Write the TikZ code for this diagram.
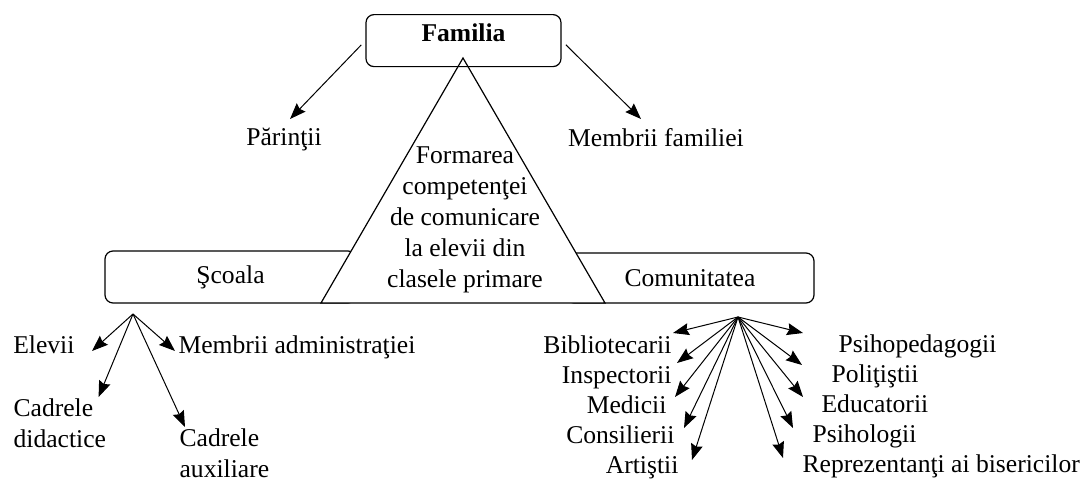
\documentclass[tikz,border=0pt]{standalone}
\usepackage{fontspec}
\setmainfont{Liberation Serif}
\usetikzlibrary{arrows.meta}

\begin{document}
\begin{tikzpicture}[x=0.5pt,y=-0.5pt,
        font=\fontsize{12.8}{15.5}\selectfont, line width=0.6pt,
        box/.style={draw, rounded corners=4pt, inner sep=0pt},
        lbl/.style={inner sep=0pt, text height=9pt, text depth=2.5pt},
        arr/.style={-{Stealth[length=8pt,width=6pt,inset=1pt]}, line width=0.5pt}]
        \useasboundingbox (0,0) rectangle (1083,482);
        \node[box, minimum width=125.5pt, minimum height=26pt] (scoala) at (230.5,277) {Şcoala};
        \node[box, minimum width=124pt, minimum height=25pt] (comunit) at (690,278) {Comunitatea};
        \draw[fill=white] (463,58) -- (605,303) -- (321,303) -- cycle;
        \node[align=center] (formare) at (465,220) {Formarea\\competenţei\\de comunicare\\la elevii din\\clasele primare};
        \node[box, anchor=north, minimum width=97.5pt, text height=13.2pt, text depth=12.8pt, font=\fontsize{12.8}{15.5}\selectfont\bfseries] (familia) at (463.5,14) {Familia};

        \node[lbl] (parinti) at (284,139) {Părinţii};
        \node[lbl] (membrifam) at (656,140) {Membrii familiei};
        \draw[arr, shorten <=3pt] (familia.west) -- ([xshift=3pt,yshift=10pt]parinti.center);
        \draw[arr, shorten <=3pt] (familia.east) -- ([xshift=-7.5pt,yshift=10.5pt]membrifam.center);

        \node[lbl, anchor=east] (elevii) at (75,347) {Elevii};
        \node[lbl, anchor=west] (membriadm) at (178,347) {Membrii administraţiei};
        \node[align=left, inner sep=0pt, anchor=north west] (caddid) at (13,398) {Cadrele\\didactice};
        \node[align=left, inner sep=0pt, anchor=north west] (cadaux) at (179,428) {Cadrele\\auxiliare};
        \coordinate (scfan) at (133,314);
        \draw[arr] (scfan) -- ([xshift=8.5pt,yshift=-2pt]elevii.east);
        \draw[arr] (scfan) -- ([xshift=-1.5pt,yshift=-2pt]membriadm.west);
        \draw[arr] (scfan) -- ([xshift=-4pt,yshift=0.5pt]caddid.north east);
        \draw[arr] (scfan) -- ([xshift=3pt,yshift=0.5pt]cadaux.north west);

        \node[lbl, anchor=east] (biblio) at (672,347) {Bibliotecarii};
        \node[lbl, anchor=east] (inspect) at (672,377) {Inspectorii};
        \node[lbl, anchor=east] (medici) at (667,407) {Medicii};
        \node[lbl, anchor=east] (consil) at (675,437) {Consilierii};
        \node[lbl, anchor=east] (artisti) at (679,467) {Artiştii};
        \node[lbl, anchor=west] (psihoped) at (838,346) {Psihopedagogii};
        \node[lbl, anchor=west] (politisti) at (831,376) {Poliţiştii};
        \node[lbl, anchor=west] (educ) at (821,406) {Educatorii};
        \node[lbl, anchor=west] (psiholog) at (812,436) {Psihologii};
        \node[lbl, anchor=west] (repr) at (802,466) {Reprezentanţi ai bisericilor};
        \coordinate (comfan) at (738,317);
        \foreach \n/\dx/\dy in {biblio/0.5pt/7pt, inspect/2.5pt/7pt, medici/4pt/5pt, consil/4.5pt/4.5pt, artisti/6.5pt/3.5pt} {
            \draw[arr] (comfan) -- ([xshift=\dx,yshift=\dy]\n.east);
        }
        \foreach \n/\dx/\dy in {psihoped/-17.5pt/6.5pt, politisti/-14.5pt/5.5pt, educ/-9pt/4.5pt, psiholog/-9.5pt/4pt, repr/-9.5pt/4pt} {
            \draw[arr] (comfan) -- ([xshift=\dx,yshift=\dy]\n.west);
        }
    \end{tikzpicture}
\end{document}
